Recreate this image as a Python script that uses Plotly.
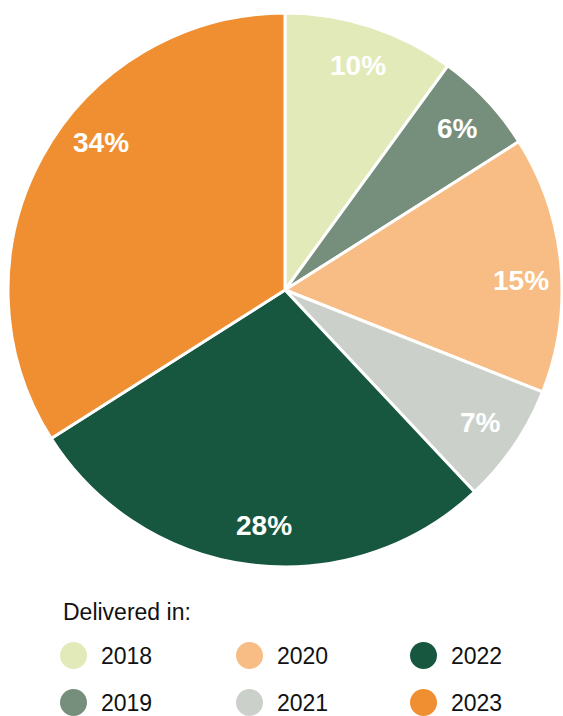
import math
import plotly.graph_objects as go

# Share of deliveries by year
years = ["2018", "2019", "2020", "2021", "2022", "2023"]
shares = [10, 6, 15, 7, 28, 34]
colors = ["#e2eab9", "#768f7c", "#f7bd84", "#cbd1ca", "#175740", "#ef8f31"]
legend_title = "Delivered in:"

W, H = 563, 716
# pie placement in pixels
left, right, top, bottom = 8, 562, 12, 568
cx, cy = (left + right) / 2, (top + bottom) / 2
R = min(right - left, bottom - top) / 2

# small angular nudges (degrees) for a few percentage labels
label_nudge = {"2020": 3, "2022": -2, "2023": 10}

fig = go.Figure(
    go.Pie(
        labels=years,
        values=shares,
        sort=False,
        direction="clockwise",
        rotation=0,
        marker=dict(colors=colors, line=dict(color="white", width=3)),
        textinfo="none",
        hoverinfo="label+percent",
        showlegend=False,
        domain=dict(x=[left / W, right / W], y=[1 - bottom / H, 1 - top / H]),
    )
)

annotations = []
shapes = []

# percentage labels along each slice's mid-angle
total = sum(shares)
cum = 0
for yr, v in zip(years, shares):
    mid = (cum + v / 2) / total * 2 * math.pi + math.radians(label_nudge.get(yr, 0))
    cum += v
    r = 0.852 * R
    px = cx + r * math.sin(mid)
    py = cy - r * math.cos(mid)
    annotations.append(dict(
        x=px / W, y=1 - py / H, xref="paper", yref="paper",
        text=f"<b>{v}%</b>", showarrow=False,
        font=dict(family="Liberation Sans, Arial, sans-serif", size=28, color="white"),
        xanchor="center", yanchor="middle",
    ))

# legend drawn as circles + labels, three columns of two rows
font_legend = dict(family="Liberation Sans, Arial, sans-serif", size=23, color="#111111")
annotations.append(dict(
    x=61 / W, y=1 - 612 / H, xref="paper", yref="paper", text=legend_title,
    showarrow=False, xanchor="left", yanchor="middle", font=font_legend,
))
col_x = [73.5, 249.5, 423.5]
row_y = [655.5, 702.5]
rad = 13.5
for i, (yr, c) in enumerate(zip(years, colors)):
    mx, my = col_x[i // 2], row_y[i % 2]
    shapes.append(dict(
        type="circle", xref="paper", yref="paper",
        x0=(mx - rad) / W, x1=(mx + rad) / W,
        y0=1 - (my + rad) / H, y1=1 - (my - rad) / H,
        fillcolor=c, line=dict(width=0),
    ))
    annotations.append(dict(
        x=(mx + 25) / W, y=1 - my / H, xref="paper", yref="paper", text=yr,
        showarrow=False, xanchor="left", yanchor="middle", font=font_legend,
    ))

fig.update_layout(
    width=W, height=H,
    margin=dict(l=0, r=0, t=0, b=0),
    paper_bgcolor="white", plot_bgcolor="white",
    annotations=annotations, shapes=shapes,
)

fig.write_html("out.html")
